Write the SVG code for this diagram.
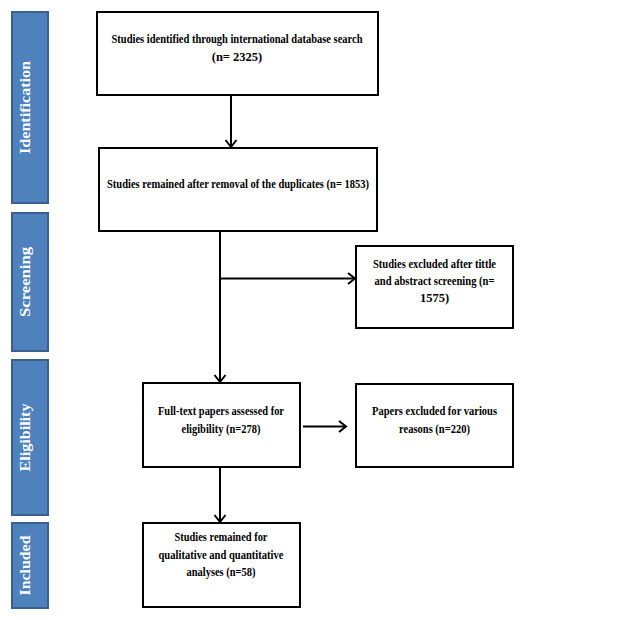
<svg xmlns="http://www.w3.org/2000/svg" width="640" height="620" viewBox="0 0 640 620">
<style>
.bar{fill:#4F81BD;stroke:#3A6090;stroke-width:2}
.lbl{fill:#fff;font-family:"Liberation Serif","Times New Roman",serif;font-weight:bold;font-size:14.5px;text-anchor:middle}
.box{fill:#fff;stroke:#000;stroke-width:2}
.t{fill:#000;font-family:"Liberation Serif","Times New Roman",serif;font-weight:bold;font-size:12.5px;text-anchor:middle}
.ln{stroke:#000;stroke-width:2;fill:none}
</style>
<defs>
<marker id="ah" markerUnits="userSpaceOnUse" markerWidth="12" markerHeight="14" refX="9" refY="7" orient="auto">
<path d="M2,1.5 L9,7 L2,12.5" fill="none" stroke="#000" stroke-width="2"/>
</marker>
</defs>
<rect width="640" height="620" fill="#fff"/>
<g id="stage-identification"><rect class="bar" x="12" y="12" width="36" height="191"/><text class="lbl" transform="translate(29.5,107.5) rotate(-90)" textLength="93" lengthAdjust="spacingAndGlyphs">Identification</text></g>
<g id="stage-screening"><rect class="bar" x="12" y="213" width="36" height="138"/><text class="lbl" transform="translate(29.5,282) rotate(-90)" textLength="70" lengthAdjust="spacingAndGlyphs">Screening</text></g>
<g id="stage-eligibility"><rect class="bar" x="12" y="360" width="36" height="155"/><text class="lbl" transform="translate(29.5,437.5) rotate(-90)" textLength="68" lengthAdjust="spacingAndGlyphs">Eligibility</text></g>
<g id="stage-included"><rect class="bar" x="12" y="523" width="36" height="85"/><text class="lbl" transform="translate(29.5,565.5) rotate(-90)" textLength="60" lengthAdjust="spacingAndGlyphs">Included</text></g>
<g id="identified"><rect class="box" x="97" y="12" width="281" height="83"/><text class="t" x="237" y="43" textLength="251" lengthAdjust="spacingAndGlyphs">Studies identified through international database search</text><text class="t" x="237" y="61">(n= 2325)</text></g>
<g id="deduplicated"><rect class="box" x="99" y="148" width="278" height="83"/><text class="t" x="238" y="188" textLength="262" lengthAdjust="spacingAndGlyphs">Studies remained after removal of the duplicates (n= 1853)</text></g>
<g id="excluded-screening"><rect class="box" x="356" y="246" width="157" height="82"/><text class="t" x="434.5" y="268" textLength="123" lengthAdjust="spacingAndGlyphs">Studies excluded after tittle</text><text class="t" x="434.5" y="285" textLength="120" lengthAdjust="spacingAndGlyphs">and abstract screening (n=</text><text class="t" x="434.5" y="302">1575)</text></g>
<g id="fulltext"><rect class="box" x="143" y="383" width="157" height="84"/><text class="t" x="221" y="415" textLength="126" lengthAdjust="spacingAndGlyphs">Full-text papers assessed for</text><text class="t" x="221" y="432.5" textLength="79" lengthAdjust="spacingAndGlyphs">eligibility (n=278)</text></g>
<g id="excluded-fulltext"><rect class="box" x="356" y="384" width="157" height="83"/><text class="t" x="434.5" y="415" textLength="125" lengthAdjust="spacingAndGlyphs">Papers excluded for various</text><text class="t" x="434.5" y="432.5" textLength="71" lengthAdjust="spacingAndGlyphs">reasons (n=220)</text></g>
<g id="included"><rect class="box" x="143" y="523" width="157" height="84"/><text class="t" x="221" y="541" textLength="93" lengthAdjust="spacingAndGlyphs">Studies remained for</text><text class="t" x="221" y="558.5" textLength="125" lengthAdjust="spacingAndGlyphs">qualitative and quantitative</text><text class="t" x="221" y="576" textLength="69" lengthAdjust="spacingAndGlyphs">analyses (n=58)</text></g>
<g id="connectors">
<path class="ln" d="M231,95 V147" marker-end="url(#ah)"/>
<path class="ln" d="M220,231 V382" marker-end="url(#ah)"/>
<path class="ln" d="M220,278.5 H355" marker-end="url(#ah)"/>
<path class="ln" d="M303,426.5 H346" marker-end="url(#ah)"/>
<path class="ln" d="M220,467 V522" marker-end="url(#ah)"/>
</g>
</svg>
